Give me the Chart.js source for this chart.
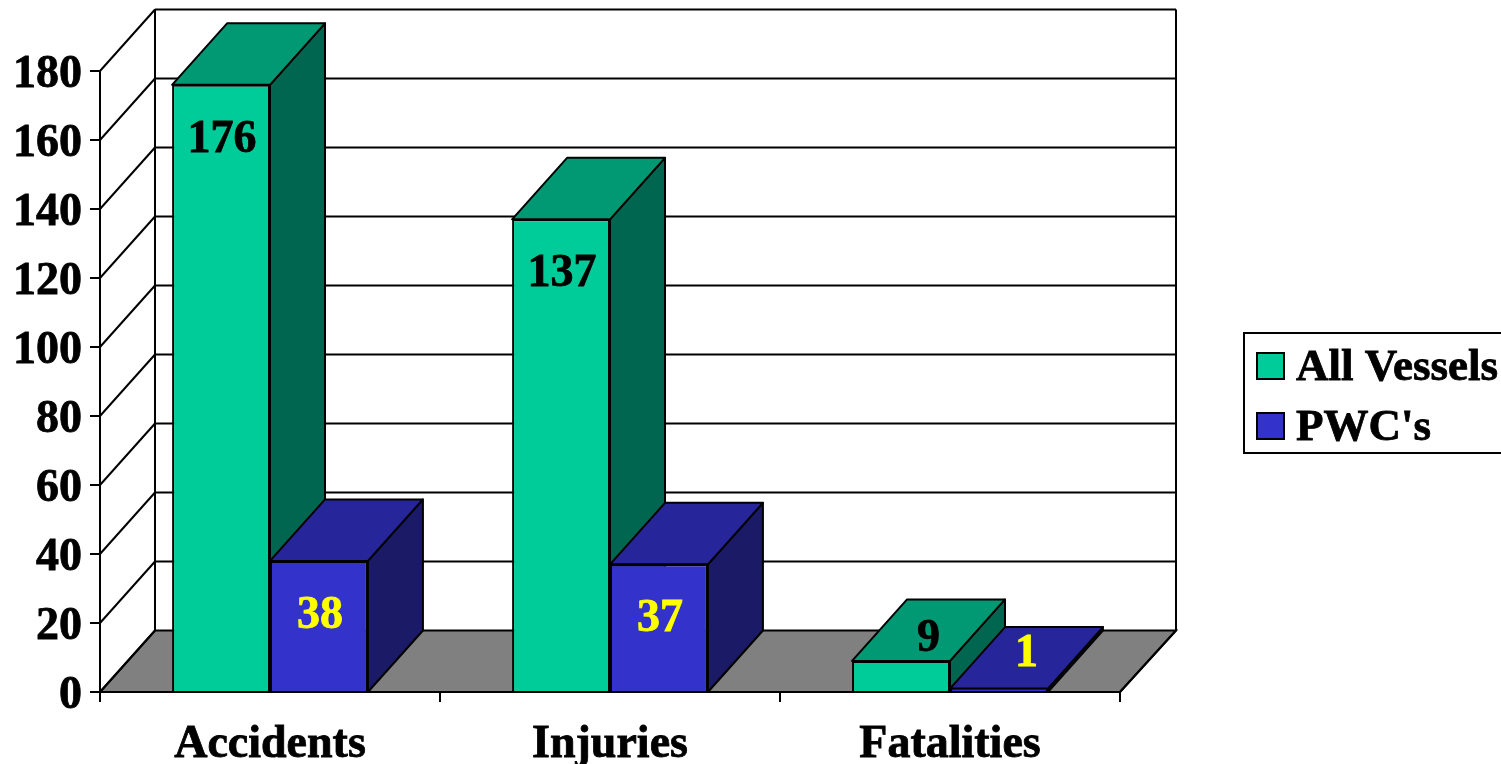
<!DOCTYPE html>
<html>
<head>
<meta charset="utf-8">
<title>Accidents, Injuries, Fatalities</title>
<script src="https://cdn.jsdelivr.net/npm/chart.js@4/dist/chart.umd.min.js"></script>
<style>
  html, body { margin: 0; padding: 0; background: #fff; overflow: hidden; }
  canvas { display: block; }
</style>
</head>
<body>
<canvas id="chart" width="1501" height="764"></canvas>
<script>
const categories = ['Accidents', 'Injuries', 'Fatalities'];
const allVessels = [176, 137, 9];
const pwcs = [38, 37, 1];
const seriesNames = ['All Vessels', "PWC's"];

// front / top / side colours of each series
const COLORS = [
  { front: '#00CC99', top: '#009973', side: '#006650', label: '#000000' },
  { front: '#3333CC', top: '#26269A', side: '#1A1A66', label: '#FFFF00' },
];
const SERIF = '"Liberation Serif", "Times New Roman", serif';
const DEPTH_X = 55;
const DEPTH_Y = 61.5;

function poly(ctx, pts, fill) {
  ctx.beginPath();
  pts.forEach((p, i) => (i ? ctx.lineTo(p[0], p[1]) : ctx.moveTo(p[0], p[1])));
  ctx.closePath();
  if (fill) { ctx.fillStyle = fill; ctx.fill(); }
  ctx.stroke();
}

function line(ctx, x1, y1, x2, y2) {
  ctx.beginPath();
  ctx.moveTo(x1, y1);
  ctx.lineTo(x2, y2);
  ctx.stroke();
}

// back wall, side wall and floor, placed from the scales
const wallsPlugin = {
  id: 'walls',
  beforeDatasetsDraw(chart) {
    const { ctx, chartArea: a, scales: { y } } = chart;
    ctx.save();
    ctx.strokeStyle = '#000';
    ctx.lineWidth = 2;
    poly(ctx, [[a.left, a.bottom], [a.left + DEPTH_X, a.bottom - DEPTH_Y],
      [a.right + DEPTH_X + 1, a.bottom - DEPTH_Y], [a.right, a.bottom]], '#808080');
    for (const t of y.ticks) {
      const py = y.getPixelForValue(t.value);
      line(ctx, a.left, py, a.left + DEPTH_X, py - DEPTH_Y);
      if (t.value > 0) line(ctx, a.left + DEPTH_X, py - DEPTH_Y, a.right + DEPTH_X + 1, py - DEPTH_Y);
    }
    line(ctx, a.left + DEPTH_X, a.top - DEPTH_Y, a.left + DEPTH_X, a.bottom - DEPTH_Y);
    line(ctx, a.right + DEPTH_X + 1, a.top - DEPTH_Y, a.right + DEPTH_X + 1, a.bottom - DEPTH_Y);
    line(ctx, a.right, a.bottom, a.right + DEPTH_X + 1, a.bottom - DEPTH_Y);
    ctx.restore();
  },
};

// top and side faces of every bar, taken from the bar elements
const facesPlugin = {
  id: 'faces',
  beforeDatasetsDraw(chart) {
    const { ctx, scales: { y } } = chart;
    const base = y.getPixelForValue(0);
    ctx.save();
    ctx.strokeStyle = '#000';
    ctx.lineWidth = 2;
    ctx.lineJoin = 'round';
    categories.forEach((_, i) => {
      chart.data.datasets.forEach((ds, d) => {
        const bar = chart.getDatasetMeta(d).data[i];
        const l = bar.x - bar.width / 2, r = bar.x + bar.width / 2, t = bar.y;
        poly(ctx, [[r, t], [r + DEPTH_X, t - DEPTH_Y], [r + DEPTH_X, base - DEPTH_Y], [r, base]], COLORS[d].side);
        poly(ctx, [[l, t], [l + DEPTH_X, t - DEPTH_Y], [r + DEPTH_X, t - DEPTH_Y], [r, t]], COLORS[d].top);
      });
    });
    ctx.restore();
  },
  afterDatasetsDraw(chart) {
    const { ctx } = chart;
    ctx.save();
    ctx.font = 'bold 46px ' + SERIF;
    ctx.textAlign = 'center';
    ctx.textBaseline = 'middle';
    ctx.lineWidth = 0.8;
    chart.data.datasets.forEach((ds, d) => {
      ctx.fillStyle = COLORS[d].label;
      ctx.strokeStyle = COLORS[d].label;
      chart.getDatasetMeta(d).data.forEach((bar, i) => {
        // short bars carry the number on the top face
        const onTop = ds.data[i] < 20;
        const x = onTop ? bar.x + DEPTH_X / 2 : bar.x + 1;
        const y = onTop ? bar.y - (d === 0 ? 22 : 34) : bar.y + 55;
        ctx.fillText(String(ds.data[i]), x, y);
        ctx.strokeText(String(ds.data[i]), x, y);
      });
    });
    ctx.restore();
  },
};

// boxed legend right of the plot
const legendPlugin = {
  id: 'boxLegend',
  afterDraw(chart) {
    const { ctx } = chart;
    ctx.save();
    ctx.strokeStyle = '#000';
    ctx.lineWidth = 2;
    ctx.fillStyle = '#fff';
    ctx.fillRect(1244, 333, 257, 120);
    ctx.strokeRect(1244, 333, 260, 120);
    ctx.font = 'bold 45px ' + SERIF;
    ctx.textBaseline = 'middle';
    seriesNames.forEach((name, i) => {
      const cy = 366 + i * 60;
      ctx.fillStyle = COLORS[i].front;
      ctx.fillRect(1257, cy - 13, 27, 26);
      ctx.lineWidth = 2;
      ctx.strokeRect(1257, cy - 13, 27, 26);
      ctx.fillStyle = '#000';
      ctx.fillText(name, 1296, cy + 2);
      ctx.lineWidth = 0.8;
      ctx.strokeText(name, 1296, cy + 2);
    });
    ctx.restore();
  },
};

const tickFont = { family: SERIF, size: 46, weight: 'bold' };

new Chart(document.getElementById('chart'), {
  type: 'bar',
  data: {
    labels: categories,
    datasets: [
      { label: seriesNames[0], data: allVessels, backgroundColor: COLORS[0].front },
      { label: seriesNames[1], data: pwcs, backgroundColor: COLORS[1].front },
    ],
  },
  options: {
    responsive: false,
    animation: false,
    layout: { padding: { top: 71, right: 381, left: 0, bottom: 0 } },
    datasets: {
      bar: {
        categoryPercentage: 0.576,
        barPercentage: 1,
        borderColor: '#000',
        borderWidth: 2,
      },
    },
    plugins: { legend: { display: false }, tooltip: { enabled: false } },
    scales: {
      x: {
        afterFit: s => { s.height = 72; },
        grid: { drawOnChartArea: false, color: '#000', lineWidth: 2, tickLength: 10, offset: true },
        border: { color: '#000', width: 2 },
        ticks: { color: '#000', padding: 16, maxRotation: 0, textStrokeColor: '#000', textStrokeWidth: 0.8, font: tickFont },
      },
      y: {
        min: 0,
        max: 180,
        afterFit: s => { s.width = 100; },
        grid: { drawOnChartArea: false, color: '#000', lineWidth: 2, tickLength: 10 },
        border: { color: '#000', width: 2 },
        ticks: { stepSize: 20, color: '#000', padding: 8, labelOffset: 4, textStrokeColor: '#000', textStrokeWidth: 0.8, font: tickFont },
      },
    },
  },
  plugins: [wallsPlugin, facesPlugin, legendPlugin],
});
</script>
</body>
</html>
